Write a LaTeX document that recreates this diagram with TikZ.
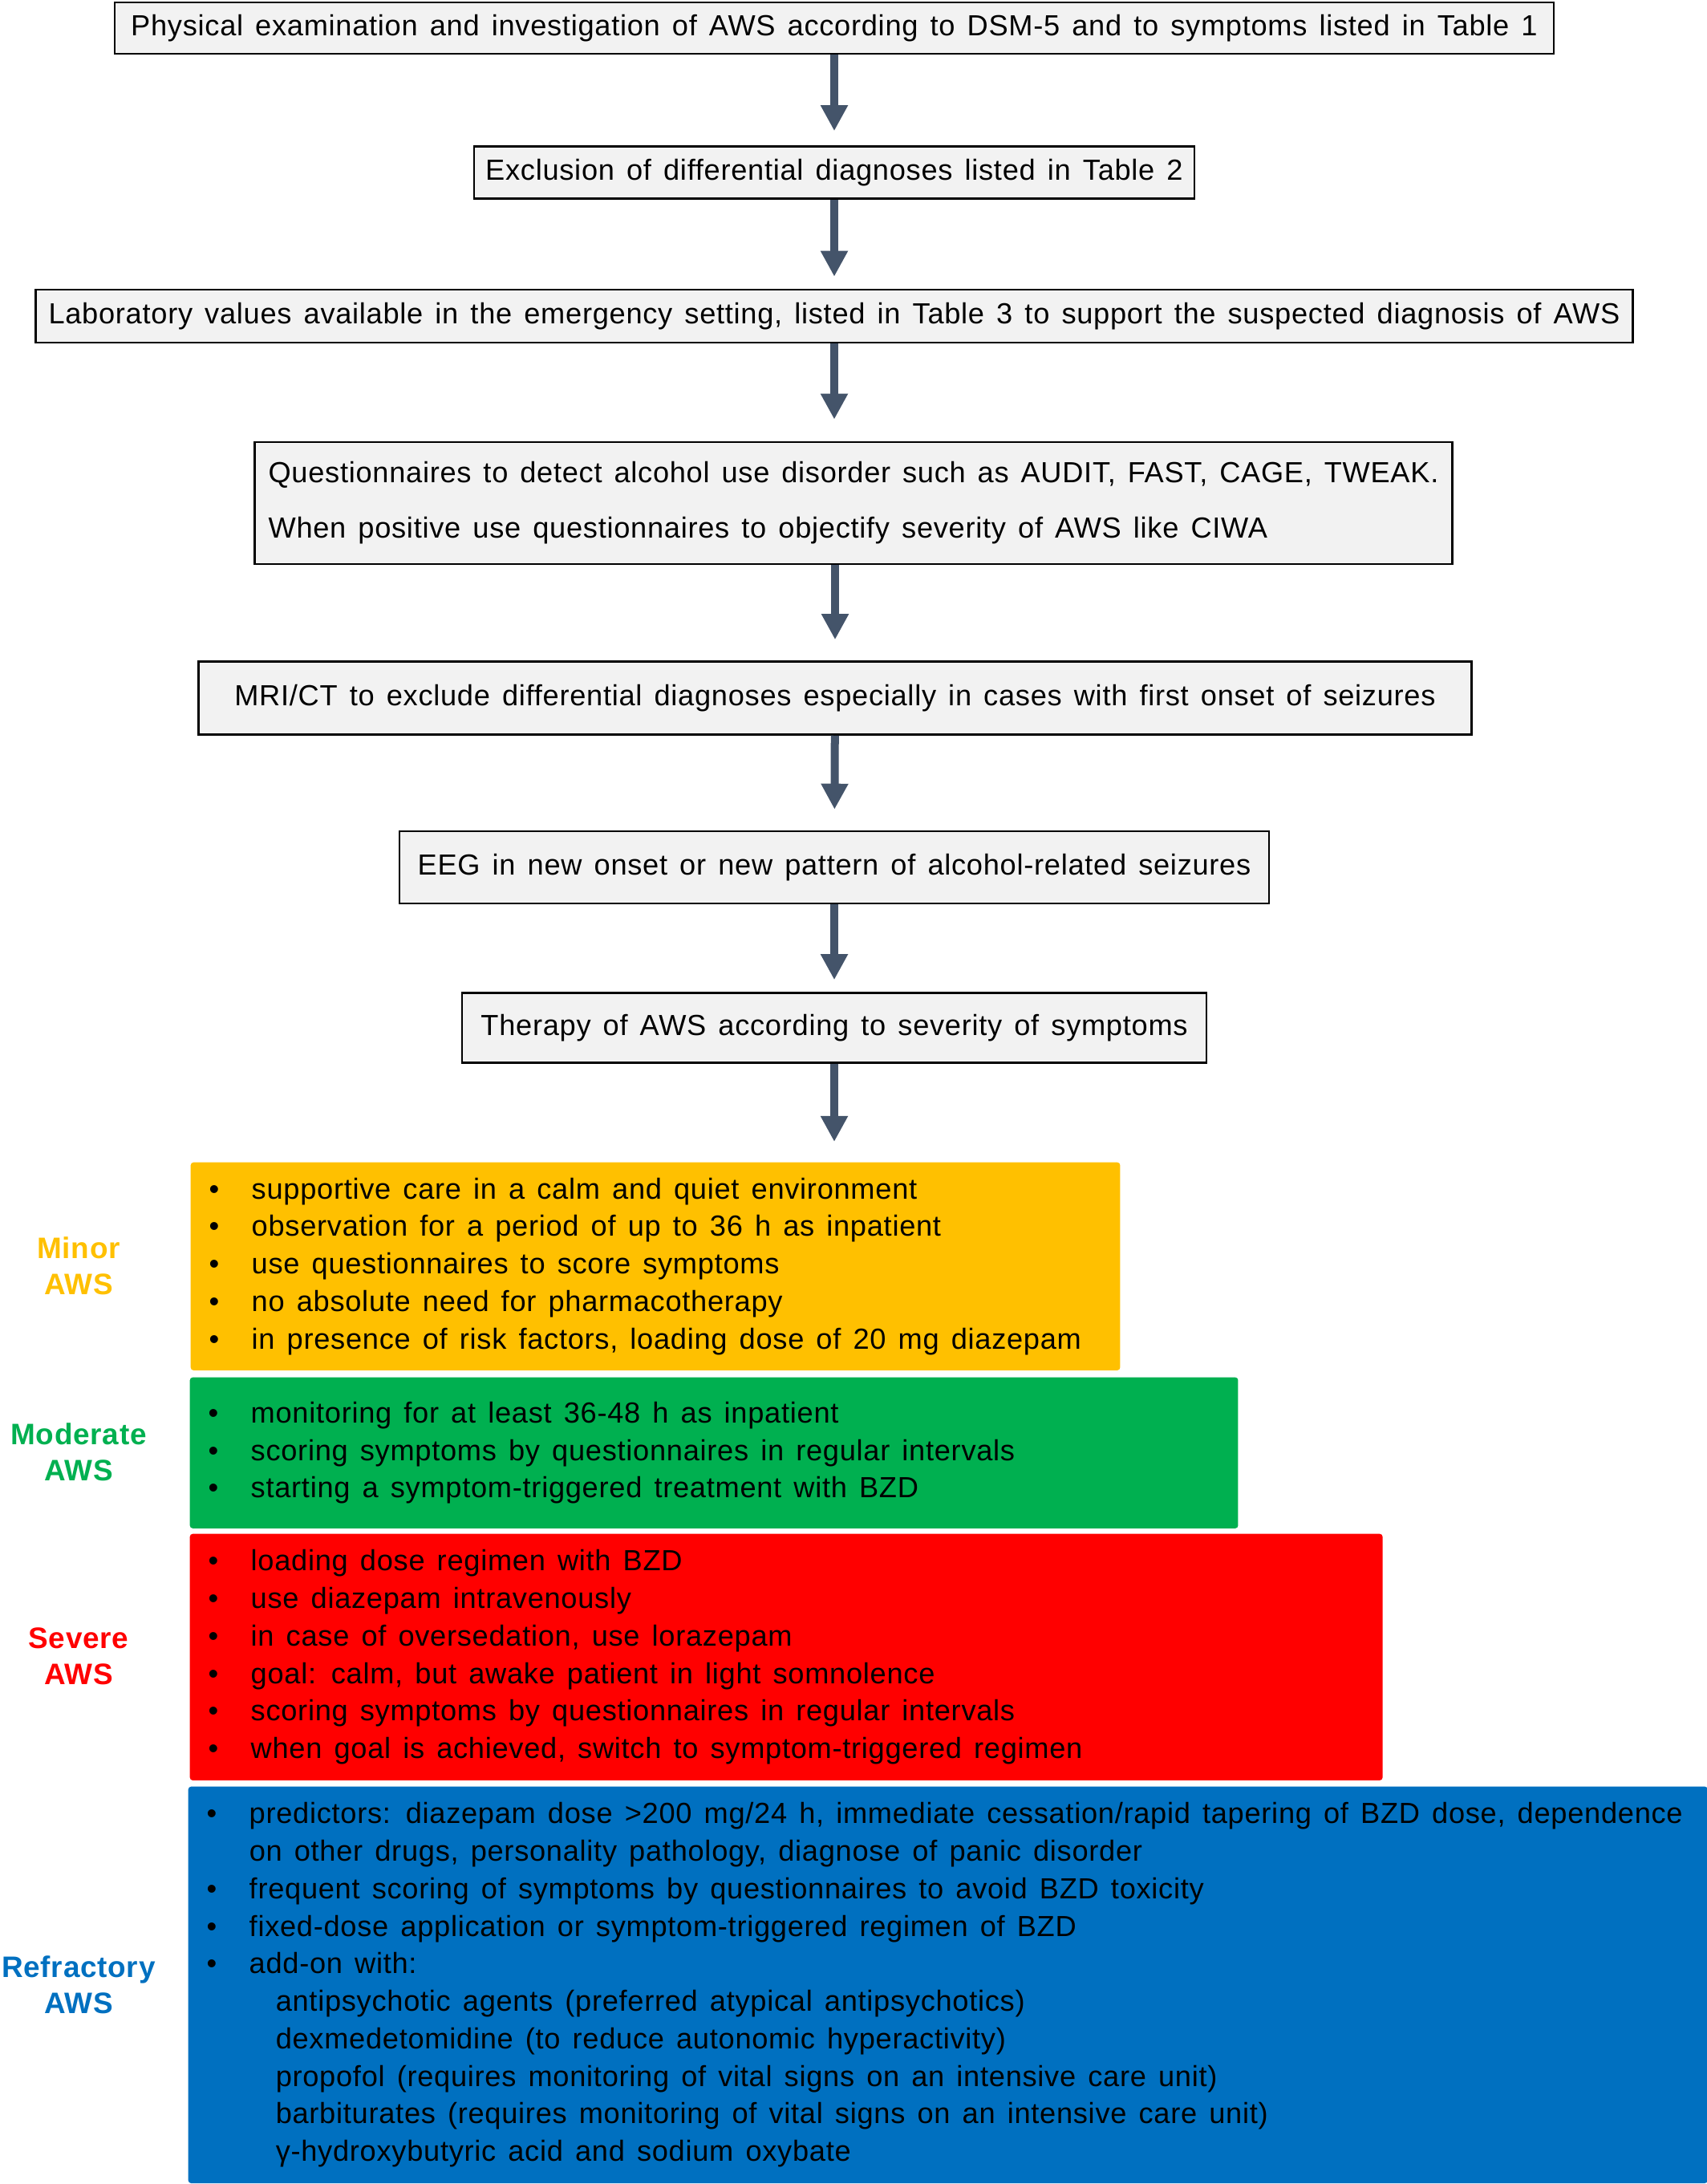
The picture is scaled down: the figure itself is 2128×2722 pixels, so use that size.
\documentclass[tikz,border=0pt]{standalone}
\usepackage{fontspec}
\setmainfont{Liberation Sans}[WordSpace=1.4,LetterSpace=2]
\usetikzlibrary{arrows.meta}
\definecolor{boxgray}{HTML}{F2F2F2}
\definecolor{arrowblue}{HTML}{44546A}
\definecolor{minorc}{HTML}{FFC000}
\definecolor{moderatec}{HTML}{00B050}
\definecolor{severec}{HTML}{FF0000}
\definecolor{refractc}{HTML}{0070C0}
\newcommand{\itm}[1]{\makebox[0.53cm][l]{\textbullet}#1}
\newcommand{\cont}[1]{\hspace*{0.53cm}#1}
\newcommand{\subitm}[1]{\hspace*{0.86cm}#1}
\tikzset{
  flow/.style={shape=rectangle,draw=black,fill=boxgray,line width=0.7pt,inner sep=0pt,font=\fontsize{10.3}{12}\selectfont},
  stage/.style={shape=rectangle,anchor=north west,rounded corners=1pt,inner ysep=0pt,inner xsep=0.23cm,align=flush left,font=\fontsize{10.3}{13.3}\selectfont},
  grade/.style={align=center,font=\bfseries\fontsize{10.5}{12.8}\selectfont},
  arr/.style={-{Triangle[width=0.32cm,length=0.32cm]},line width=0.1cm,draw=arrowblue},
}
\begin{document}
\begin{tikzpicture}[x=0.01cm,y=-0.01cm]
\useasboundingbox (0,0) rectangle (2128,2722);
% diagnostic steps
\node[flow,minimum width=17.93cm,minimum height=0.64cm](PE) at (1040,35){Physical examination and investigation of AWS according to DSM-5 and to symptoms listed in Table 1};
\node[flow,minimum width=8.97cm,minimum height=0.65cm](EX) at (1040,215){Exclusion of differential diagnoses listed in Table 2};
\node[flow,minimum width=19.9cm,minimum height=0.66cm](LAB) at (1040,394){Laboratory values available in the emergency setting, listed in Table 3 to support the suspected diagnosis of AWS};
\node[flow,minimum width=14.92cm,minimum height=1.52cm,align=flush left,text width=14.58cm,font=\fontsize{10.3}{19.6}\selectfont](Q) at (1064,627){Questionnaires to detect alcohol use disorder such as AUDIT, FAST, CAGE, TWEAK.\\When positive use questionnaires to objectify severity of AWS like CIWA};
\node[flow,minimum width=15.86cm,minimum height=0.91cm](MRI) at (1041,870){MRI/CT to exclude differential diagnoses especially in cases with first onset of seizures};
\node[flow,minimum width=10.83cm,minimum height=0.9cm](EEG) at (1040,1081){EEG in new onset or new pattern of alcohol-related seizures};
\node[flow,minimum width=9.27cm,minimum height=0.87cm](TH) at (1040,1281){Therapy of AWS according to severity of symptoms};
\draw[arr,shorten >=0.18cm] (PE) -- (EX);
\draw[arr,shorten >=0.15cm] (EX) -- (LAB);
\draw[arr,shorten >=0.27cm] (LAB.south) -- (LAB.south |- Q.north);
\draw[arr,shorten >=0.26cm] (MRI.north |- Q.south) -- (MRI.north);
\draw[arr,shorten >=0.26cm] (MRI) -- (EEG);
\draw[arr,shorten >=0.15cm] (EEG) -- (TH);
% severity grades
\node[stage,fill=minorc,minimum height=2.59cm,text width=11.12cm](MIN) at (237,1448){%
\itm{supportive care in a calm and quiet environment}\\
\itm{observation for a period of up to 36 h as inpatient}\\
\itm{use questionnaires to score symptoms}\\
\itm{no absolute need for pharmacotherapy}\\
\itm{in presence of risk factors, loading dose of 20 mg diazepam}};
\node[stage,fill=moderatec,minimum height=1.88cm,text width=12.6cm](MOD) at (236,1716){%
\itm{monitoring for at least 36-48 h as inpatient}\\
\itm{scoring symptoms by questionnaires in regular intervals}\\
\itm{starting a symptom-triggered treatment with BZD}};
\node[stage,fill=severec,minimum height=3.07cm,text width=14.4cm](SEV) at (236,1911){%
\itm{loading dose regimen with BZD}\\
\itm{use diazepam intravenously}\\
\itm{in case of oversedation, use lorazepam}\\
\itm{goal: calm, but awake patient in light somnolence}\\
\itm{scoring symptoms by questionnaires in regular intervals}\\
\itm{when goal is achieved, switch to symptom-triggered regimen}};
\node[stage,fill=refractc,minimum height=4.94cm,text width=18.47cm](REF) at (234,2226){%
\itm{predictors: diazepam dose >200 mg/24 h, immediate cessation/rapid tapering of BZD dose, dependence}\\
\cont{on other drugs, personality pathology, diagnose of panic disorder}\\
\itm{frequent scoring of symptoms by questionnaires to avoid BZD toxicity}\\
\itm{fixed-dose application or symptom-triggered regimen of BZD}\\
\itm{add-on with:}\\
\subitm{antipsychotic agents (preferred atypical antipsychotics)}\\
\subitm{dexmedetomidine (to reduce autonomic hyperactivity)}\\
\subitm{propofol (requires monitoring of vital signs on an intensive care unit)}\\
\subitm{barbiturates (requires monitoring of vital signs on an intensive care unit)}\\
\subitm{γ-hydroxybutyric acid and sodium oxybate}};
\draw[arr,shorten >=0.25cm] (TH.south) -- (TH.south |- MIN.north);
\node[grade,text=minorc](LMIN) at (98,1578){Minor\\AWS};
\node[grade,text=moderatec](LMOD) at (98,1810){Moderate\\AWS};
\node[grade,text=severec](LSEV) at (98,2064){Severe\\AWS};
\node[grade,text=refractc](LREF) at (98,2474){Refractory\\AWS};
\end{tikzpicture}
\end{document}
